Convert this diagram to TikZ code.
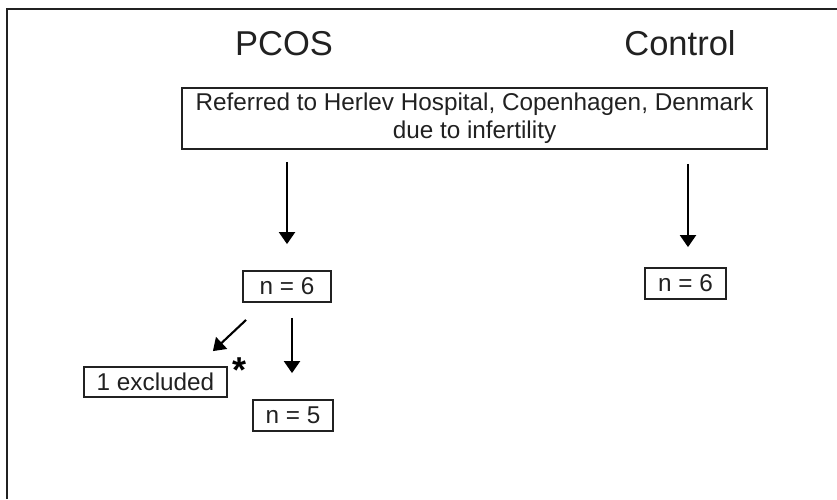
\documentclass[tikz,border=0pt]{standalone}
\usepackage{fontspec}
\setmainfont{Liberation Sans}
\usetikzlibrary{arrows.meta,calc}
\definecolor{ink}{gray}{0.13}
\begin{document}
\begin{tikzpicture}[x=1pt,y=-1pt,
  frameline/.style={draw=ink, line width=2pt},
  title/.style={font=\fontsize{34.5}{40}\selectfont, text=ink, inner sep=0pt},
  box/.style={draw=ink, line width=1.8pt, inner sep=0pt, text=ink, font=\fontsize{24.3}{28}\selectfont},
  arr/.style={draw=black, line width=2.1pt, -{Triangle[length=12pt,width=16pt]}}]
\useasboundingbox (0,0) rectangle (837,499);
\fill[white] (0,0) rectangle (837,499);
\coordinate (fa) at (7,499);
\coordinate (fb) at (7,8.5);
\coordinate (fc) at (837,8.5);
\draw[frameline] (fa) -- (fb) -- (fc);
\node[title, anchor=base] (pcos) at (284,55) {PCOS};
\node[title, anchor=base] (ctrl) at (680,55) {Control};
\node[box, minimum width=585pt, minimum height=61pt, align=center] (main) at (474.5,118.5)
  {Referred to Herlev Hospital, Copenhagen, Denmark\\due to infertility};
\node[box, minimum width=88pt, minimum height=31pt] (p6) at (287,286.5) {n = 6};
\node[box, minimum width=81pt, minimum height=31pt] (c6) at (685.5,283.5) {n = 6};
\node[box, minimum width=143pt, minimum height=30pt] (ex) at (155.5,382) {1 excluded};
\node[box, minimum width=80pt, minimum height=31pt] (p5) at (293,415.5) {n = 5};
\node[font=\fontsize{36}{36}\selectfont\bfseries, text=black, anchor=north, inner sep=0pt] (ast) at (239.5,358) {*};
\draw[arr] ($(main.south -| p6.north)+(0,12)$) -- ($(p6.north)+(0,-26)$);
\draw[arr] ($(main.south -| c6.north)+(2.5,14)$) -- ($(c6.north)+(2.5,-20)$);
\draw[arr] ($(p6.south -| p5.north)+(-1,15)$) -- ($(p5.north)+(-1,-26)$);
\draw[arr] ($(p6.south west)+(4,17)$) -- ($(ex.north east)+(-15,-15)$);
\end{tikzpicture}
\end{document}
